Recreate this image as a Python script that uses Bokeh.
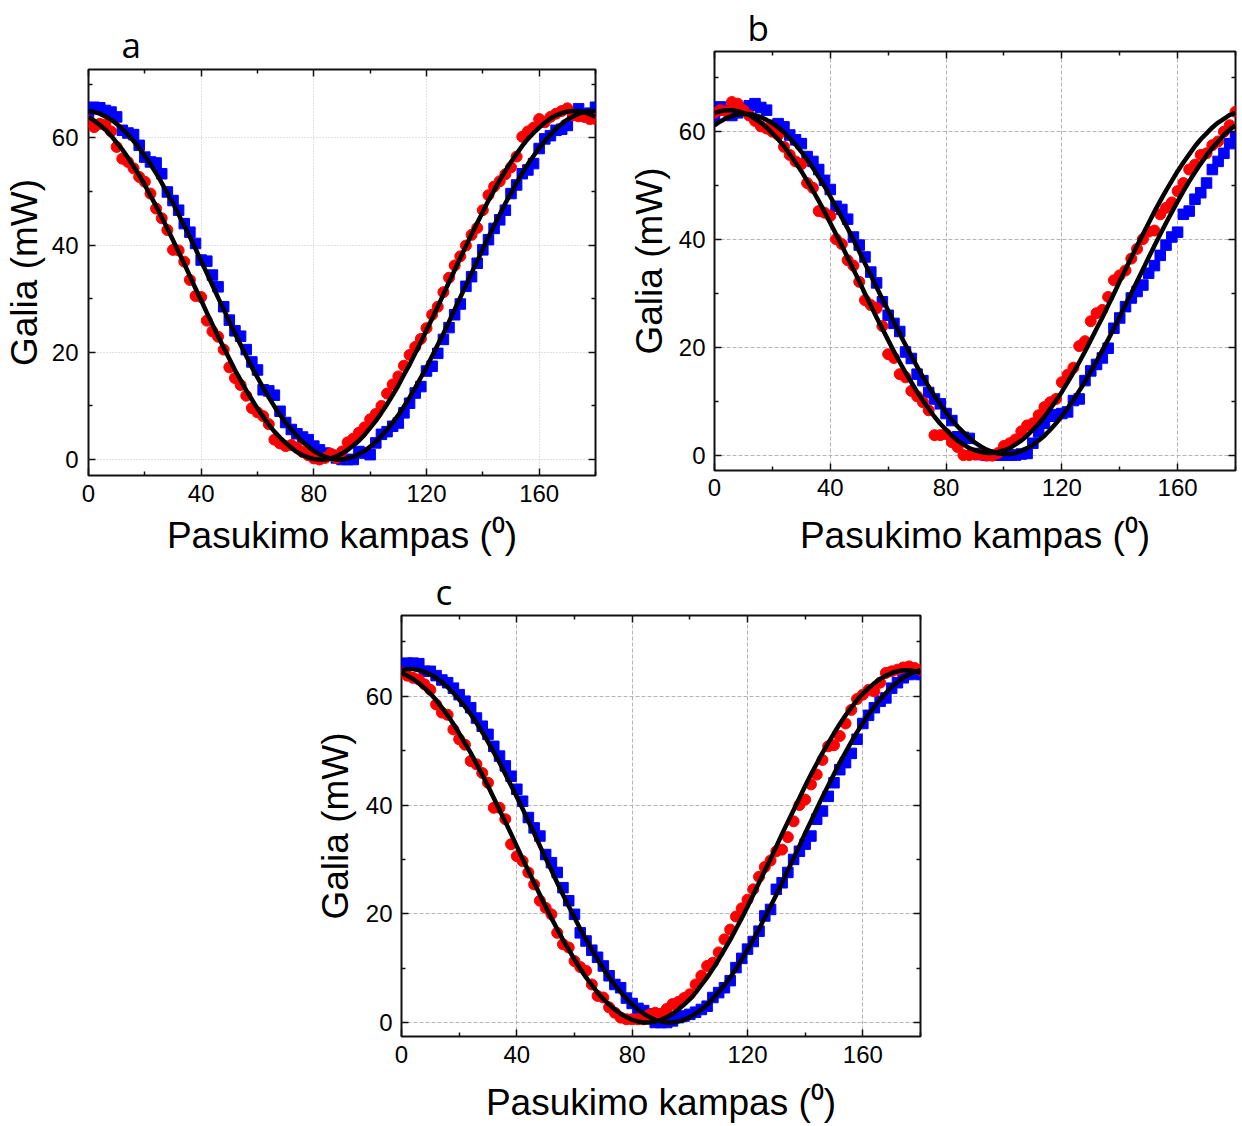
from bokeh.plotting import figure
from bokeh.models import LinearAxis, Range1d, Spacer, FixedTicker
from bokeh.layouts import column, row
from bokeh.embed import file_html
from bokeh.resources import INLINE

# ---------------- data ----------------
ANGLE = list(range(0, 181, 2))

# panel a
A_RED = [63.2, 62.0, 62.6, 62.5, 61.2, 58.3, 56.1, 55.5, 54.3, 52.7,
         51.8, 49.6, 46.8, 45.0, 42.8, 39.1, 39.0, 36.9, 33.5, 30.5,
         30.3, 25.9, 23.9, 22.9, 20.5, 17.2, 15.2, 13.9, 11.9, 9.6,
         8.8, 8.1, 6.6, 3.7, 3.0, 2.5, 2.7, 2.2, 1.4, 0.8,
         0.2, 0.0, 0.3, 1.1, 0.3, 1.5, 3.2, 3.9, 5.0, 6.0,
         7.5, 8.5, 10.0, 12.3, 14.0, 15.5, 17.5, 19.5, 21.0, 22.5,
         24.5, 27.0, 28.5, 31.2, 33.9, 36.2, 37.9, 39.9, 41.9, 43.2,
         46.5, 49.3, 50.9, 51.9, 53.2, 54.5, 56.5, 60.2, 61.2, 61.9,
         63.5, 62.9, 63.9, 64.5, 65.0, 65.5, 64.2, 64.0, 63.9, 63.5,
         63.5]
A_BLUE = [64.0, 65.7, 65.6, 65.1, 64.8, 63.9, 61.4, 60.9, 60.6, 58.6,
          56.4, 55.5, 55.3, 53.3, 49.9, 48.3, 46.5, 44.0, 42.4, 40.3,
          37.2, 37.0, 34.4, 32.2, 28.5, 26.0, 24.0, 23.0, 20.5, 18.2,
          16.7, 13.0, 12.8, 12.0, 9.0, 6.9, 5.6, 4.8, 4.2, 3.7,
          2.5, 1.8, 1.2, 0.8, 0.3, 0.0, 0.0, 0.0, 1.5, 1.2,
          0.9, 3.1, 4.7, 5.2, 6.2, 6.8, 8.7, 10.5, 12.4, 13.6,
          16.5, 17.4, 19.8, 22.4, 24.6, 27.0, 29.0, 32.3, 34.1, 36.6,
          39.1, 41.0, 43.1, 44.7, 46.5, 49.6, 51.2, 53.3, 54.0, 55.2,
          58.0, 59.8, 60.4, 61.4, 61.6, 62.3, 64.2, 65.4, 64.2, 64.6,
          65.7]
A_RED_FIT = [63.9, 63.2, 62.4, 61.5, 60.4, 59.1, 57.8, 56.3, 54.7, 53.0,
             51.2, 49.2, 47.3, 45.2, 43.1, 40.9, 38.7, 36.5, 34.2, 31.9,
             29.7, 27.4, 25.2, 23.0, 20.9, 18.8, 16.7, 14.8, 12.9, 11.2,
             9.5, 8.0, 6.5, 5.2, 4.1, 3.1, 2.2, 1.4, 0.8, 0.4,
             0.1, 0.0, 0.0, 0.2, 0.6, 1.1, 1.8, 2.6, 3.5, 4.6,
             5.9, 7.2, 8.7, 10.3, 12.0, 13.8, 15.8, 17.7, 19.8, 21.9,
             24.1, 26.3, 28.5, 30.8, 33.1, 35.3, 37.6, 39.8, 42.0, 44.1,
             46.2, 48.3, 50.2, 52.1, 53.8, 55.5, 57.0, 58.5, 59.8, 60.9,
             61.9, 62.8, 63.6, 64.2, 64.6, 64.9, 65.0, 65.0, 64.8, 64.4,
             63.9]
A_BLUE_FIT = [65.0, 64.8, 64.5, 64.0, 63.4, 62.6, 61.7, 60.6, 59.4, 58.1,
              56.6, 55.1, 53.4, 51.6, 49.7, 47.8, 45.7, 43.6, 41.5, 39.3,
              37.0, 34.8, 32.5, 30.2, 28.0, 25.7, 23.5, 21.4, 19.3, 17.2,
              15.3, 13.4, 11.6, 9.9, 8.3, 6.9, 5.6, 4.4, 3.3, 2.4,
              1.6, 1.0, 0.5, 0.2, 0.0, 0.0, 0.2, 0.5, 1.0, 1.6,
              2.4, 3.3, 4.4, 5.6, 6.9, 8.3, 9.9, 11.6, 13.4, 15.3,
              17.2, 19.3, 21.4, 23.5, 25.7, 28.0, 30.2, 32.5, 34.8, 37.0,
              39.3, 41.5, 43.6, 45.7, 47.8, 49.7, 51.6, 53.4, 55.1, 56.6,
              58.1, 59.4, 60.6, 61.7, 62.6, 63.4, 64.0, 64.5, 64.8, 65.0,
              65.0]

# panel b
B_RED = [63.5, 64.0, 63.8, 65.5, 65.2, 64.0, 63.0, 62.0, 61.0, 60.6,
         60.0, 59.4, 57.2, 55.7, 54.5, 54.0, 50.5, 49.6, 45.3, 45.0,
         44.4, 40.1, 39.2, 36.2, 35.2, 32.2, 28.8, 27.9, 27.3, 24.0,
         18.8, 18.1, 15.1, 14.5, 12.0, 11.0, 9.9, 8.4, 3.8, 3.8,
         4.0, 2.5, 1.6, 0.1, 0.1, 0.2, 0.2, 0.0, 0.0, 0.5,
         1.8, 2.3, 3.0, 4.5, 5.6, 6.0, 7.5, 9.0, 9.9, 10.5,
         13.6, 15.0, 16.3, 20.3, 21.2, 24.9, 26.4, 27.0, 29.4, 32.5,
         33.4, 34.3, 36.5, 38.3, 40.1, 41.5, 41.7, 44.7, 45.9, 46.9,
         49.0, 50.5, 53.0, 53.9, 55.7, 56.0, 57.5, 58.2, 60.0, 61.2,
         63.7]
B_BLUE = [62.8, 64.6, 64.0, 63.0, 63.5, 64.3, 64.8, 65.2, 64.5, 64.0,
          61.2, 61.5, 60.9, 59.4, 58.5, 57.8, 55.4, 54.5, 53.0, 51.0,
          49.3, 46.2, 45.6, 43.8, 40.5, 39.0, 36.8, 34.0, 32.0, 28.5,
          26.0, 24.5, 23.0, 19.2, 18.0, 15.1, 13.9, 11.7, 10.5, 9.6,
          7.8, 6.5, 3.5, 3.4, 3.2, 0.4, 0.2, 0.1, 0.1, 0.1,
          0.1, 0.1, 0.1, 0.3, 0.4, 2.3, 4.4, 6.0, 7.3, 7.6,
          7.8, 8.1, 10.2, 10.5, 13.9, 15.7, 16.9, 18.1, 19.9, 23.6,
          25.5, 27.6, 29.2, 30.4, 31.6, 33.8, 35.2, 37.1, 39.0, 40.5,
          41.4, 44.7, 45.3, 47.5, 48.7, 50.5, 53.0, 54.5, 56.0, 57.8,
          59.0]
B_RED_FIT = [63.5, 63.8, 64.0, 64.0, 63.8, 63.5, 63.1, 62.4, 61.7, 60.8,
             59.7, 58.6, 57.3, 55.8, 54.3, 52.7, 50.9, 49.1, 47.2, 45.2,
             43.1, 41.0, 38.9, 36.7, 34.5, 32.3, 30.0, 27.8, 25.6, 23.5,
             21.4, 19.3, 17.3, 15.4, 13.6, 11.8, 10.2, 8.7, 7.2, 5.9,
             4.8, 3.7, 2.8, 2.1, 1.4, 1.0, 0.7, 0.5, 0.5, 0.7,
             1.0, 1.4, 2.1, 2.8, 3.7, 4.8, 5.9, 7.2, 8.7, 10.2,
             11.8, 13.6, 15.4, 17.3, 19.3, 21.4, 23.5, 25.6, 27.8, 30.0,
             32.3, 34.5, 36.7, 38.9, 41.0, 43.1, 45.2, 47.2, 49.1, 50.9,
             52.7, 54.3, 55.8, 57.3, 58.6, 59.7, 60.8, 61.7, 62.4, 63.1,
             63.5]
B_BLUE_FIT = [61.2, 61.9, 62.5, 62.9, 63.2, 63.3, 63.3, 63.1, 62.7, 62.2,
              61.6, 60.8, 59.9, 58.8, 57.6, 56.3, 54.8, 53.3, 51.6, 49.9,
              48.0, 46.1, 44.1, 42.1, 40.0, 37.8, 35.6, 33.4, 31.2, 29.0,
              26.9, 24.7, 22.6, 20.5, 18.5, 16.5, 14.6, 12.8, 11.1, 9.5,
              8.0, 6.6, 5.4, 4.3, 3.3, 2.4, 1.7, 1.1, 0.7, 0.4,
              0.3, 0.3, 0.5, 0.9, 1.4, 2.0, 2.8, 3.7, 4.8, 6.0,
              7.3, 8.8, 10.3, 12.0, 13.7, 15.6, 17.5, 19.5, 21.5, 23.6,
              25.8, 28.0, 30.1, 32.3, 34.5, 36.7, 38.9, 41.0, 43.1, 45.1,
              47.1, 49.0, 50.8, 52.5, 54.1, 55.6, 57.0, 58.2, 59.4, 60.4,
              61.2]

# panel c
C_RED = [64.3, 63.8, 63.4, 63.1, 62.2, 61.2, 58.5, 57.0, 56.6, 53.9,
         52.1, 51.1, 48.1, 47.5, 45.9, 44.1, 39.5, 39.5, 37.4, 32.8,
         30.6, 29.7, 27.6, 25.4, 22.4, 21.1, 19.9, 16.5, 14.4, 13.8,
         11.3, 10.2, 9.5, 7.0, 4.9, 4.6, 2.8, 1.8, 0.9, 0.6,
         0.6, 0.6, 0.6, 1.5, 1.8, 1.6, 2.5, 3.4, 3.8, 4.5,
         5.2, 7.0, 8.6, 10.4, 11.0, 12.9, 15.3, 17.1, 19.5, 21.0,
         22.6, 24.5, 26.8, 28.6, 29.8, 31.5, 31.8, 34.1, 37.0, 40.0,
         41.0, 43.8, 45.6, 48.3, 50.8, 51.0, 52.7, 55.0, 57.5, 59.5,
         60.3, 61.2, 60.9, 62.5, 64.3, 64.6, 64.9, 65.3, 65.5, 65.2,
         64.8]
C_BLUE = [65.5, 66.1, 66.1, 66.0, 64.6, 64.6, 63.8, 63.0, 62.5, 61.5,
          60.3, 59.1, 57.9, 56.0, 54.5, 53.0, 50.8, 49.0, 47.2, 45.3,
          42.9, 40.7, 37.7, 35.8, 34.3, 30.9, 29.4, 27.6, 24.8, 22.4,
          19.9, 16.5, 15.0, 13.3, 12.0, 10.4, 8.6, 7.0, 6.4, 4.5,
          3.5, 2.6, 2.2, 1.6, 0.0, 0.0, 0.0, 0.3, 0.9, 1.2,
          1.5, 1.9, 2.4, 3.0, 4.6, 5.5, 6.4, 7.7, 10.1, 11.8,
          13.5, 14.9, 16.8, 19.6, 20.8, 24.5, 25.7, 27.6, 30.0, 31.5,
          32.8, 34.3, 37.4, 38.9, 41.6, 44.1, 46.5, 47.8, 49.5, 52.1,
          55.0, 56.5, 57.9, 59.1, 59.7, 61.5, 62.5, 63.4, 64.0, 64.3,
          64.0]
C_RED_FIT = [64.3, 63.8, 63.2, 62.4, 61.5, 60.5, 59.3, 57.9, 56.5, 54.9,
             53.2, 51.4, 49.6, 47.6, 45.6, 43.5, 41.3, 39.1, 36.9, 34.7,
             32.4, 30.1, 27.9, 25.7, 23.5, 21.3, 19.2, 17.2, 15.2, 13.4,
             11.6, 9.9, 8.3, 6.9, 5.5, 4.3, 3.3, 2.4, 1.6, 1.0,
             0.5, 0.2, 0.0, 0.0, 0.2, 0.5, 1.0, 1.6, 2.4, 3.3,
             4.3, 5.5, 6.9, 8.3, 9.9, 11.6, 13.4, 15.2, 17.2, 19.2,
             21.3, 23.5, 25.7, 27.9, 30.1, 32.4, 34.7, 36.9, 39.1, 41.3,
             43.5, 45.6, 47.6, 49.6, 51.4, 53.2, 54.9, 56.5, 57.9, 59.3,
             60.5, 61.5, 62.4, 63.2, 63.8, 64.3, 64.6, 64.8, 64.8, 64.6,
             64.3]
C_BLUE_FIT = [64.8, 65.0, 65.0, 64.8, 64.5, 64.0, 63.4, 62.6, 61.7, 60.6,
              59.4, 58.1, 56.7, 55.1, 53.4, 51.6, 49.7, 47.8, 45.7, 43.6,
              41.5, 39.3, 37.0, 34.8, 32.5, 30.2, 28.0, 25.7, 23.5, 21.4,
              19.3, 17.2, 15.3, 13.4, 11.6, 9.9, 8.3, 6.9, 5.6, 4.4,
              3.3, 2.4, 1.6, 1.0, 0.5, 0.2, 0.0, 0.0, 0.2, 0.5,
              1.0, 1.6, 2.4, 3.3, 4.4, 5.6, 6.9, 8.3, 9.9, 11.6,
              13.4, 15.3, 17.2, 19.3, 21.4, 23.5, 25.7, 28.0, 30.2, 32.5,
              34.8, 37.0, 39.3, 41.5, 43.6, 45.7, 47.8, 49.7, 51.6, 53.4,
              55.1, 56.7, 58.1, 59.4, 60.6, 61.7, 62.6, 63.4, 64.0, 64.5,
              64.8]

X_MAJOR = [0, 40, 80, 120, 160]
X_MINOR = [20, 60, 100, 140, 180]
Y_MAJOR = [0, 20, 40, 60]
Y_MINOR = [10, 30, 50, 70]
X_TITLE = "Pasukimo kampas (\u2070)"
Y_TITLE = "Galia (mW)"
LETTERS = ["a", "b", "c"]

FONT = "Liberation Sans"
RED = "#ff0000"
BLUE = "#0000ff"


def style_ticks(ax):
    ax.major_tick_in = 7
    ax.major_tick_out = 0
    ax.minor_tick_in = 4
    ax.minor_tick_out = 0
    ax.major_tick_line_color = "#111111"
    ax.minor_tick_line_color = "#111111"
    ax.major_tick_line_width = 1.5
    ax.minor_tick_line_width = 1.5
    ax.axis_line_color = None


def make_panel(letter, red, blue, red_fit, blue_fit, width, height, borders,
               y_rng, grid_dash, grid_color, title_geo, x_stand, y_stand):
    left, right, top, bottom = borders
    p = figure(width=width, height=height,
               x_range=Range1d(0, 180), y_range=Range1d(*y_rng),
               output_backend="svg", toolbar_location=None,
               min_border_left=left, min_border_right=right,
               min_border_top=top, min_border_bottom=bottom)
    p.background_fill_color = "white"
    p.border_fill_color = "white"
    p.outline_line_color = "#111111"
    p.outline_line_width = 2

    # panel letter as title
    p.title.text = letter
    p.title.text_font = "Open Sans"
    p.title.text_font_size = "35px"
    p.title.text_font_style = "normal"
    p.title.text_color = "black"
    p.title.align = "left"
    p.title.offset = title_geo[0]
    p.title.standoff = title_geo[1]

    xt = FixedTicker(ticks=X_MAJOR, minor_ticks=X_MINOR)
    yt = FixedTicker(ticks=Y_MAJOR, minor_ticks=Y_MINOR)

    xa = p.xaxis[0]
    ya = p.yaxis[0]
    for ax, tk, st in ((xa, xt, x_stand), (ya, yt, y_stand)):
        ax.ticker = tk
        style_ticks(ax)
        ax.major_label_text_font = FONT
        ax.major_label_text_font_size = "24px"
        ax.major_label_text_color = "black"
        ax.major_label_standoff = st[0]
        ax.axis_label_text_font = FONT
        ax.axis_label_text_font_size = "37px"
        ax.axis_label_text_font_style = "normal"
        ax.axis_label_text_color = "black"
        ax.axis_label_standoff = st[1]
    xa.axis_label = X_TITLE
    ya.axis_label = Y_TITLE

    p.xgrid.ticker = FixedTicker(ticks=X_MAJOR)
    p.ygrid.ticker = FixedTicker(ticks=Y_MAJOR)
    for g in (p.xgrid[0], p.ygrid[0]):
        g.grid_line_color = grid_color
        g.grid_line_dash = grid_dash
        g.grid_line_width = 1

    top_ax = LinearAxis(ticker=FixedTicker(ticks=X_MAJOR, minor_ticks=X_MINOR),
                        major_label_overrides={t: "" for t in X_MAJOR},
                        major_label_standoff=0)
    right_ax = LinearAxis(ticker=FixedTicker(ticks=Y_MAJOR, minor_ticks=Y_MINOR),
                          major_label_overrides={t: "" for t in Y_MAJOR},
                          major_label_standoff=0)
    for ax in (top_ax, right_ax):
        style_ticks(ax)
        ax.major_label_text_font_size = "1px"
    p.add_layout(top_ax, "above")
    p.add_layout(right_ax, "right")

    p.scatter(ANGLE, blue, marker="square", size=10.5, color=BLUE)
    p.scatter(ANGLE, red, marker="circle", size=11, color=RED)
    p.line(ANGLE, red_fit, line_width=4.5, color="black", line_join="round")
    p.line(ANGLE, blue_fit, line_width=4.5, color="black", line_join="round")
    return p


pa = make_panel(LETTERS[0], A_RED, A_BLUE, A_RED_FIT, A_BLUE_FIT,
                620, 558, (88, 25, 69, 82), (-2.98, 72.74),
                "1 2", "#c4c4c4", (33, 4), (9, 10), (10, 4))
pb = make_panel(LETTERS[1], B_RED, B_BLUE, B_RED_FIT, B_BLUE_FIT,
                622, 558, (94, 7, 47, 88), (-2.75, 74.86),
                "4 2", "#b4b4b4", (33, 2), (8, 16), (9, 6))
pc = make_panel(LETTERS[2], C_RED, C_BLUE, C_RED_FIT, C_BLUE_FIT,
                629, 567, (90, 20, 57, 88), (-2.57, 74.86),
                "4 2", "#b4b4b4", (34, 2), (9, 16), (9, 7))

layout = column(row(column(pa), column(pb)),
                row(Spacer(width=311, height=10), pc))

with open("out.html", "w") as f:
    f.write(file_html(layout, INLINE))
